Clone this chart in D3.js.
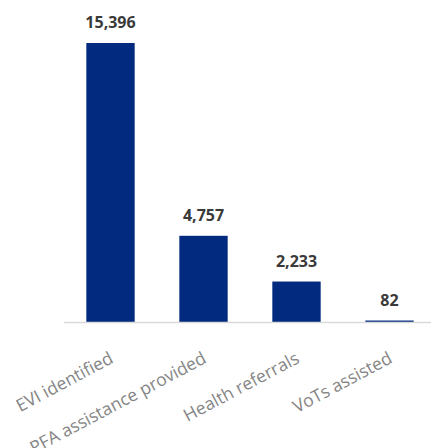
<!DOCTYPE html>
<html>
<head>
<meta charset="utf-8"/>
<script src="https://cdn.jsdelivr.net/npm/d3@7"></script>
<style>
  body { margin: 0; background: #fff; }
  .val { font-family: "Open Sans", sans-serif; font-weight: bold; font-size: 16px; fill: #3a3a3a; }
  .cat { font-family: "Open Sans", sans-serif; font-size: 17.5px; fill: #858585; }
</style>
</head>
<body>
<svg id="chart" width="431" height="448"></svg>
<script>
var categories = ["EVI identified", "PFA assistance provided", "Health referrals", "VoTs assisted"];
var values = [15396, 4757, 2233, 82];

var svg = d3.select("#chart");
var baseY = 322;

var x = d3.scaleBand()
    .domain(categories)
    .range([64, 436])
    .paddingInner(0.48)
    .paddingOuter(0.24);

var y = d3.scaleLinear()
    .domain([0, 15396])
    .range([baseY, 43]);

svg.selectAll("rect.bar")
    .data(values)
    .enter().append("rect")
    .attr("class", "bar")
    .attr("x", function(d, i) { return x(categories[i]); })
    .attr("width", x.bandwidth())
    .attr("y", function(d) { return y(d); })
    .attr("height", function(d) { return baseY - y(d); })
    .attr("fill", "#022a7e");

// axis line (drawn over bars)
svg.append("line")
    .attr("x1", 64).attr("x2", 431)
    .attr("y1", baseY + 0.5).attr("y2", baseY + 0.5)
    .attr("stroke", "#d9d9d9").attr("stroke-width", 1.5);

svg.selectAll("text.val")
    .data(values)
    .enter().append("text")
    .attr("class", "val")
    .attr("text-anchor", "middle")
    .attr("x", function(d, i) { return x(categories[i]) + x.bandwidth() / 2; })
    .attr("y", function(d) { return y(d) - 15; })
    .text(d3.format(","));

// rotated category labels
svg.selectAll("text.cat")
    .data(categories)
    .enter().append("text")
    .attr("class", "cat")
    .attr("text-anchor", "end")
    .attr("transform", function(d) {
        var cx = x(d) + x.bandwidth() / 2;
        return "translate(" + (cx + 4) + "," + (baseY + 40) + ") rotate(-28)";
    })
    .text(function(d) { return d; });
</script>
</body>
</html>
